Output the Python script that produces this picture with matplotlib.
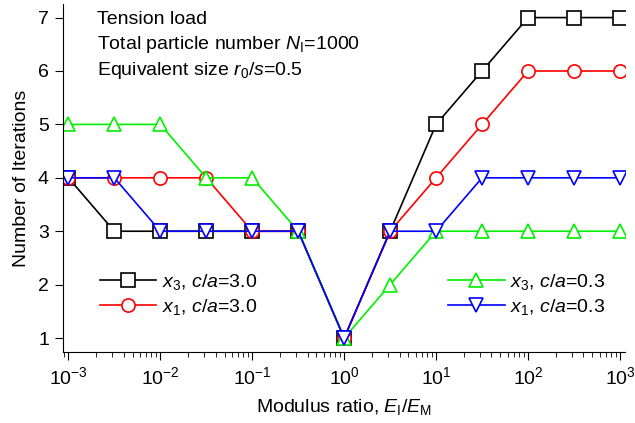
import matplotlib
matplotlib.use('Agg')
import matplotlib.pyplot as plt
import numpy as np

plt.rcParams['font.family'] = ['Liberation Sans', 'DejaVu Sans']
plt.rcParams['mathtext.fontset'] = 'custom'
plt.rcParams['mathtext.rm'] = 'Liberation Sans'
plt.rcParams['mathtext.it'] = 'Liberation Sans:italic'

# modulus ratio E_I/E_M, half-decade steps
exponents = [-3, -2.5, -2, -1.5, -1, -0.5, 0, 0.5, 1, 1.5, 2, 2.5, 3]
x3_ca30 = [4, 3, 3, 3, 3, 3, 1, 3, 5, 6, 7, 7, 7]
x1_ca30 = [4, 4, 4, 4, 3, 3, 1, 3, 4, 5, 6, 6, 6]
x3_ca03 = [5, 5, 5, 4, 4, 3, 1, 2, 3, 3, 3, 3, 3]
x1_ca03 = [4, 4, 3, 3, 3, 3, 1, 3, 3, 4, 4, 4, 4]

ratio = np.power(10.0, exponents)
fs = 14

fig = plt.figure(figsize=(6.35, 4.23), dpi=100)
ax = fig.add_axes([0.099, 0.168, 0.886, 0.822])

mk = dict(markersize=9.5, markerfacecolor='white', markeredgewidth=1.2, linewidth=1.2)
l1, = ax.plot(ratio, x3_ca30, color='black', marker='s', label='$x_3$, $c/a$=3.0', **mk)
l2, = ax.plot(ratio, x1_ca30, color='red', marker='o', label='$x_1$, $c/a$=3.0', **mk)
l3, = ax.plot(ratio, x3_ca03, color='#00f000', marker='^', label='$x_3$, $c/a$=0.3', **mk)
l4, = ax.plot(ratio, x1_ca03, color='blue', marker='v', label='$x_1$, $c/a$=0.3', **mk)

ax.set_xscale('log')
ax.set_xlim(10**-3.06, 10**3.06)
ax.set_ylim(0.74, 7.25)
ax.set_yticks([1, 2, 3, 4, 5, 6, 7])
ax.spines['top'].set_visible(False)
ax.spines['right'].set_visible(False)
ax.tick_params(direction='out', labelsize=fs)
ax.tick_params(which='major', length=6, pad=4)
ax.tick_params(which='minor', length=3.5)

ax.set_xlabel('Modulus ratio, $E_\\mathrm{I}/E_\\mathrm{M}$', fontsize=fs, labelpad=7)
ax.set_ylabel('Number of Iterations', fontsize=fs, labelpad=6)

ax.text(0.06, 0.955, 'Tension load', transform=ax.transAxes, fontsize=fs, va='center')
ax.text(0.06, 0.883, 'Total particle number $N_\\mathrm{I}$=1000', transform=ax.transAxes,
        fontsize=fs, va='center')
ax.text(0.06, 0.81, 'Equivalent size $r_0/s$=0.5', transform=ax.transAxes,
        fontsize=fs, va='center')

leg_kw = dict(loc='upper left', frameon=False, fontsize=fs, handlelength=2.9,
              handletextpad=0.3, labelspacing=0.25, borderaxespad=0, borderpad=0)
leg1 = ax.legend(handles=[l1, l2], bbox_to_anchor=(0.066, 0.23), **leg_kw)
ax.add_artist(leg1)
ax.legend(handles=[l3, l4], bbox_to_anchor=(0.685, 0.23), **leg_kw)

fig.savefig('out.png', dpi=100)
